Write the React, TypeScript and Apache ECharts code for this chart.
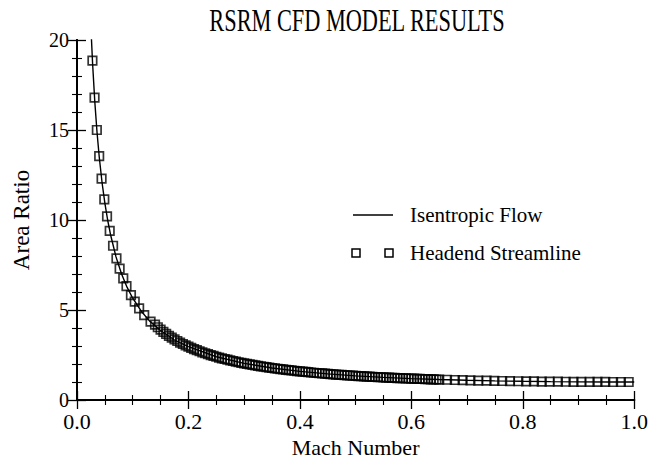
import React, { useEffect, useRef } from "react";
import * as echarts from "echarts";

const titleText = "RSRM CFD MODEL RESULTS";
const xAxisName = "Mach Number";
const yAxisName = "Area Ratio";
const legendLabels = ["Isentropic Flow", "Headend Streamline"];

// Isentropic flow curve [Mach, area ratio]
const isentropicMach = [0.022, 0.025, 0.028, 0.032, 0.036, 0.04, 0.045, 0.05, 0.055, 0.06, 0.07, 0.08, 0.09, 0.1, 0.115, 0.13, 0.15, 0.175, 0.2, 0.25, 0.3, 0.35, 0.4, 0.45, 0.5, 0.55, 0.6, 0.65, 0.7, 0.75, 0.8, 0.85, 0.9, 0.95, 1.0];
const isentropicRatio = [23.16, 20.68, 18.68, 16.55, 14.85, 13.47, 12.07, 10.94, 10.0, 9.21, 7.95, 7.0, 6.255, 5.654, 4.945, 4.397, 3.86, 3.331, 2.964, 2.403, 2.035, 1.778, 1.59, 1.449, 1.34, 1.255, 1.188, 1.136, 1.094, 1.062, 1.038, 1.021, 1.009, 1.002, 1.0];

// Headend streamline points: sparse low-Mach part
const streamLowMach = [0.0277, 0.0315, 0.0356, 0.0398, 0.0441, 0.049, 0.0539, 0.0587, 0.0647, 0.0708, 0.0765, 0.083, 0.0888, 0.0968, 0.1036, 0.1115, 0.1206, 0.132];
const streamLowRatio = [18.85, 16.8, 15.0, 13.55, 12.3, 11.15, 10.2, 9.4, 8.57, 7.87, 7.3, 6.76, 6.33, 5.83, 5.46, 5.09, 4.72, 4.35];

// dense middle part
const streamMidMach = [
  0.14, 0.145, 0.15, 0.155, 0.16, 0.165, 0.17, 0.175, 0.18, 0.185, 0.19, 0.195, 0.2, 0.205, 0.21, 0.215, 0.22, 0.225, 0.23, 0.235, 0.24, 0.245,
  0.25, 0.255, 0.26, 0.265, 0.27, 0.275, 0.28, 0.285, 0.29, 0.295, 0.3, 0.305, 0.31, 0.315, 0.32, 0.325, 0.33, 0.335, 0.34, 0.345, 0.35, 0.355,
  0.36, 0.365, 0.37, 0.375, 0.38, 0.385, 0.39, 0.395, 0.4, 0.405, 0.41, 0.415, 0.42, 0.425, 0.43, 0.435, 0.44, 0.445, 0.45, 0.455, 0.46, 0.465,
  0.47, 0.475, 0.48, 0.485, 0.49, 0.495, 0.5, 0.505, 0.51, 0.515, 0.52, 0.525, 0.53, 0.535, 0.54, 0.545, 0.55, 0.555, 0.56, 0.565, 0.57, 0.575,
  0.58, 0.585, 0.59, 0.595, 0.6, 0.605, 0.61, 0.615, 0.62, 0.625, 0.63, 0.635, 0.64, 0.645, 0.65,
];
const streamMidRatio = [
  4.182, 4.042, 3.91, 3.788, 3.673, 3.565, 3.464, 3.368, 3.278, 3.193, 3.112, 3.036, 2.964, 2.895, 2.829, 2.767, 2.708, 2.651, 2.597, 2.545, 2.496, 2.448,
  2.403, 2.359, 2.317, 2.277, 2.238, 2.201, 2.166, 2.131, 2.098, 2.066, 2.035, 2.005, 1.977, 1.949, 1.922, 1.896, 1.871, 1.846, 1.823, 1.8, 1.778, 1.757,
  1.736, 1.716, 1.696, 1.677, 1.659, 1.641, 1.624, 1.607, 1.59, 1.574, 1.559, 1.544, 1.529, 1.515, 1.501, 1.487, 1.474, 1.461, 1.449, 1.436, 1.425, 1.413,
  1.402, 1.391, 1.38, 1.37, 1.36, 1.35, 1.34, 1.33, 1.321, 1.312, 1.304, 1.295, 1.287, 1.278, 1.271, 1.263, 1.255, 1.248, 1.241, 1.233, 1.227, 1.22,
  1.213, 1.207, 1.201, 1.194, 1.188, 1.182, 1.177, 1.171, 1.166, 1.16, 1.155, 1.15, 1.145, 1.14, 1.136,
];

// sparser high-Mach part
const streamHighMach = [0.664, 0.678, 0.692, 0.706, 0.72, 0.735, 0.749, 0.763, 0.777, 0.792, 0.806, 0.82, 0.834, 0.848, 0.863, 0.877, 0.891, 0.905, 0.92, 0.934, 0.948, 0.962, 0.976, 0.99];
const streamHighRatio = [1.124, 1.112, 1.1, 1.09, 1.08, 1.071, 1.063, 1.055, 1.048, 1.041, 1.035, 1.03, 1.026, 1.021, 1.017, 1.014, 1.011, 1.008, 1.006, 1.004, 1.002, 1.001, 1.0, 1.0];

const FONT = "'Liberation Serif', 'DejaVu Serif', serif";

export default function App() {
  const ref = useRef<HTMLDivElement>(null);
  useEffect(() => {
    if (!ref.current) return;
    const chart = echarts.init(ref.current, null, { renderer: "svg" });
    const lineData = isentropicMach.map((m, i) => [m, isentropicRatio[i]]);
    const pointData = [
      ...streamLowMach.map((m, i) => [m, streamLowRatio[i]]),
      ...streamMidMach.map((m, i) => [m, streamMidRatio[i]]),
      ...streamHighMach.map((m, i) => [m, streamHighRatio[i]]),
    ];
    const axisCommon = {
      axisLine: { show: true, lineStyle: { color: "#000", width: 2 } },
      axisTick: { show: true, inside: true, length: 9, lineStyle: { color: "#000", width: 1.3 } },
      splitLine: { show: false },
    };
    const xMinor = { show: true, splitNumber: 4, length: 5, lineStyle: { color: "#000", width: 1.1 } };
    const yMinor = { show: true, splitNumber: 5, length: 5, lineStyle: { color: "#000", width: 1.1 } };
    chart.setOption({
      animation: false,
      backgroundColor: "#fff",
      grid: { left: 77, right: 14, top: 40, bottom: 64 },
      xAxis: [
        {
          type: "value",
          min: 0,
          max: 1,
          interval: 0.2,
          name: xAxisName,
          nameLocation: "middle",
          nameGap: 36,
          nameTextStyle: { fontFamily: FONT, fontSize: 22, color: "#000" },
          axisLabel: {
            fontFamily: FONT,
            fontSize: 22,
            color: "#000",
            margin: 10,
            formatter: (v: number) => v.toFixed(1),
          },
          ...axisCommon,
          minorTick: xMinor,
        },
        {
          type: "value",
          position: "top",
          min: 0,
          max: 1,
          interval: 0.2,
          axisLabel: { show: false },
          ...axisCommon,
          minorTick: xMinor,
        },
      ],
      yAxis: [
        {
          type: "value",
          min: 0,
          max: 20,
          interval: 5,
          name: yAxisName,
          nameLocation: "middle",
          nameGap: 44,
          nameTextStyle: { fontFamily: FONT, fontSize: 23, color: "#000" },
          axisLabel: { fontFamily: FONT, fontSize: 20, color: "#000", margin: 8, padding: [0, 0, 6, 0] },
          ...axisCommon,
          minorTick: yMinor,
        },
        {
          type: "value",
          position: "right",
          min: 0,
          max: 20,
          interval: 5,
          axisLabel: { show: false },
          ...axisCommon,
          minorTick: yMinor,
        },
      ],
      series: [
        {
          name: legendLabels[0],
          type: "line",
          data: lineData,
          symbol: "none",
          lineStyle: { color: "#000", width: 1.4 },
          clip: true,
          z: 3,
        },
        {
          name: legendLabels[1],
          type: "scatter",
          data: pointData,
          symbol: "rect",
          symbolSize: 8.5,
          itemStyle: { color: "rgba(0,0,0,0)", borderColor: "#000", borderWidth: 1.7 },
          clip: true,
          z: 4,
        },
      ],
      graphic: [
        {
          type: "text",
          x: 357,
          y: 21,
          scaleX: 0.72,
          style: {
            text: titleText,
            fontFamily: FONT,
            fontSize: 31,
            fill: "#000",
            align: "center",
            verticalAlign: "middle",
          },
        },
        { type: "line", shape: { x1: 353, y1: 215, x2: 393, y2: 215 }, style: { stroke: "#000", lineWidth: 1.5 } },
        {
          type: "text",
          x: 410,
          y: 215,
          style: { text: legendLabels[0], fontFamily: FONT, fontSize: 21, fill: "#000", verticalAlign: "middle" },
        },
        { type: "rect", shape: { x: 352, y: 249, width: 8, height: 8 }, style: { fill: "none", stroke: "#000", lineWidth: 1.5 } },
        { type: "rect", shape: { x: 385, y: 249, width: 8, height: 8 }, style: { fill: "none", stroke: "#000", lineWidth: 1.5 } },
        {
          type: "text",
          x: 410,
          y: 253,
          style: { text: legendLabels[1], fontFamily: FONT, fontSize: 21, fill: "#000", verticalAlign: "middle" },
        },
      ],
    });
    return () => chart.dispose();
  }, []);
  return <div ref={ref} style={{ width: 651, height: 464, position: "absolute", left: 0, top: 0 }} />;
}
